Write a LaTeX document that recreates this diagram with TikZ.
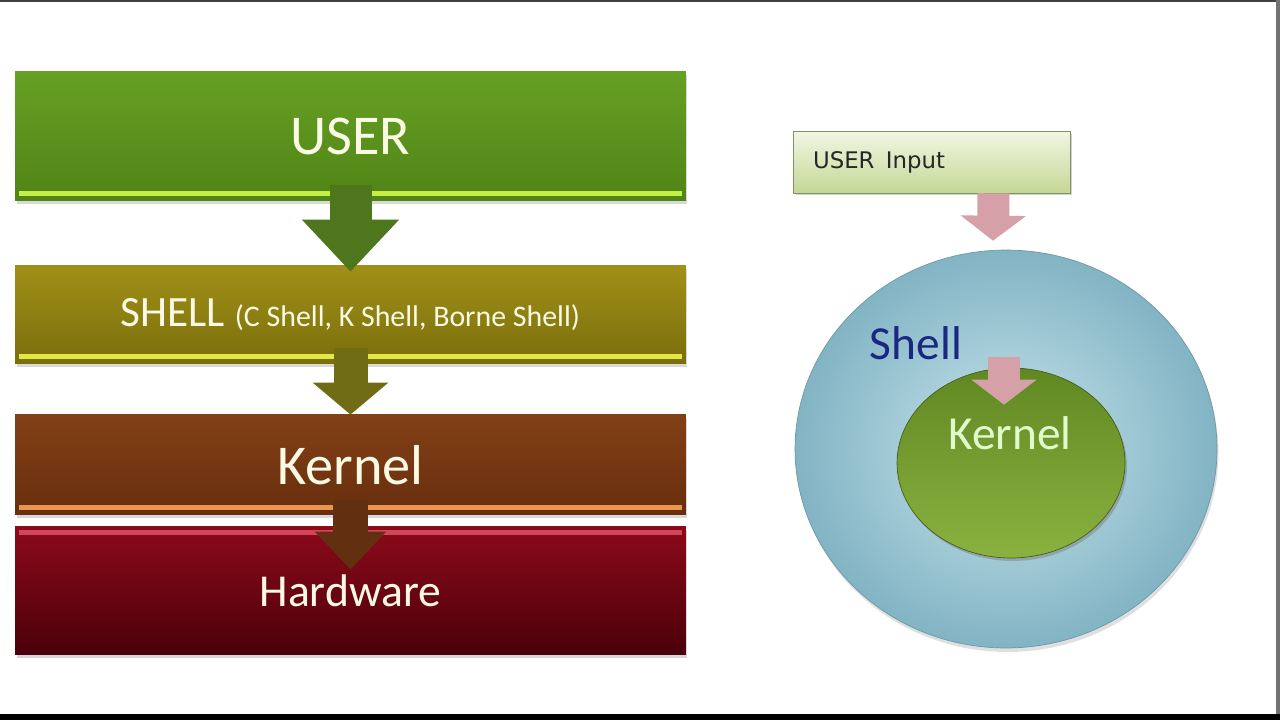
\documentclass[tikz,border=0pt]{standalone}
\usepackage{fontspec}
\setmainfont{Carlito}
\newfontfamily\inputfont{DejaVu Sans}
\usetikzlibrary{shapes.geometric, arrows.meta, shadows}

\definecolor{cream}{RGB}{250,250,228}
\definecolor{usertop}{RGB}{102,160,36}
\definecolor{userbot}{RGB}{80,132,22}
\definecolor{userhl}{RGB}{196,240,70}
\definecolor{usershaft}{RGB}{78,118,28}
\definecolor{shelltop}{RGB}{160,144,24}
\definecolor{shellbot}{RGB}{122,110,12}
\definecolor{shellhl}{RGB}{228,232,70}
\definecolor{shellshaft}{RGB}{112,108,22}
\definecolor{kerntop}{RGB}{130,64,22}
\definecolor{kernbot}{RGB}{104,46,14}
\definecolor{kernhl}{RGB}{232,150,80}
\definecolor{kernshaft}{RGB}{98,48,16}
\definecolor{hardtop}{RGB}{140,10,26}
\definecolor{hardbot}{RGB}{74,0,10}
\definecolor{hardhl}{RGB}{210,70,90}
\definecolor{inputtop}{RGB}{242,246,228}
\definecolor{inputbot}{RGB}{196,216,150}
\definecolor{inputedge}{RGB}{130,146,100}
\definecolor{pinkarr}{RGB}{214,160,168}
\definecolor{ringin}{RGB}{200,228,236}
\definecolor{ringout}{RGB}{130,180,196}
\definecolor{shellblue}{RGB}{26,40,130}
\definecolor{kerngreen}{RGB}{96,136,34}
\definecolor{kerngreenlt}{RGB}{138,178,64}

\tikzstyle{layer} = [rectangle, minimum width=13.42cm, text centered, text=cream, drop shadow={opacity=0.3, shadow xshift=0.03cm, shadow yshift=-0.07cm}]
\tikzstyle{userbox} = [layer, minimum height=2.6cm, top color=usertop, bottom color=userbot, font=\fontsize{32}{38}\selectfont]
\tikzstyle{shellbox} = [layer, minimum height=1.96cm, top color=shelltop, bottom color=shellbot]
\tikzstyle{kernelbox} = [layer, minimum height=2cm, top color=kerntop, bottom color=kernbot, font=\fontsize{32}{38}\selectfont]
\tikzstyle{hardbox} = [layer, minimum height=2.56cm, top color=hardtop, bottom color=hardbot, font=\fontsize{26}{30}\selectfont]
\tikzstyle{hilite} = [line width=3pt]
\tikzstyle{inputbox} = [rectangle, minimum width=5.54cm, minimum height=1.24cm, text width=4.74cm, align=left, inner xsep=0.4cm, top color=inputtop, bottom color=inputbot, draw=inputedge, font=\inputfont\fontsize{13}{15}\selectfont, text=black!85, drop shadow={opacity=0.35, shadow xshift=0.05cm, shadow yshift=-0.05cm}]
\tikzstyle{ring} = [ellipse, minimum width=8.44cm, minimum height=7.96cm, inner color=ringin, outer color=ringout, draw=ringout!85!black, drop shadow={opacity=0.25, shadow xshift=0.03cm, shadow yshift=-0.08cm}]
\tikzstyle{core} = [ellipse, minimum width=4.56cm, minimum height=3.8cm, top color=kerngreen, bottom color=kerngreenlt, draw=kerngreen!70!black, drop shadow={opacity=0.5, shadow xshift=0.04cm, shadow yshift=-0.06cm}]
\tikzstyle{pinkarrow} = [pinkarr, line width=0.64cm, -{Triangle[width=1.28cm, length=0.5cm]}]

\begin{document}
\begin{tikzpicture}[x=0.02cm, y=-0.02cm]
\fill[white] (0,0) rectangle (1280,720);
\useasboundingbox (0,0) rectangle (1280,720);

% layers
\node (user) [userbox] at (350.5,136) {USER};
\node (shell) [shellbox, below of=user, yshift=-2.58cm] {\fontsize{24.6}{30}\selectfont SHELL \fontsize{17}{20}\selectfont(C Shell, K Shell, Borne Shell)};
\node (kernel) [kernelbox, below of=shell, yshift=-2cm] {Kernel};
\node (hardware) [hardbox, below of=kernel, yshift=-1.52cm] {Hardware};

\draw [hilite, userhl] ([xshift=0.08cm,yshift=0.16cm]user.south west) -- ([xshift=-0.08cm,yshift=0.16cm]user.south east);
\draw [hilite, shellhl] ([xshift=0.08cm,yshift=0.16cm]shell.south west) -- ([xshift=-0.08cm,yshift=0.16cm]shell.south east);
\draw [hilite, kernhl] ([xshift=0.08cm,yshift=0.16cm]kernel.south west) -- ([xshift=-0.08cm,yshift=0.16cm]kernel.south east);
\draw [hilite, hardhl] ([xshift=0.08cm,yshift=-0.12cm]hardware.north west) -- ([xshift=-0.08cm,yshift=-0.12cm]hardware.north east);

\draw [usershaft, line width=0.84cm, -{Triangle[width=1.88cm, length=1.04cm]}, shorten <=-0.32cm, shorten >=-0.12cm] (user) -- (shell);
\draw [shellshaft, line width=0.68cm, -{Triangle[width=1.48cm, length=0.64cm]}, shorten <=-0.32cm] (shell) -- (kernel);
\draw [kernshaft, line width=0.7cm, -{Triangle[width=1.38cm, length=0.76cm]}, shorten <=-0.3cm, shorten >=-0.86cm] (kernel) -- (hardware);

% circle view
\node (userin) [inputbox] at (931.5,162) {USER\, Input};
\node (shellc) [ring] at (1006,449) {};
\node (kernc) [core] at (1011,463) {};
\node (shelllbl) [text=shellblue, font=\fontsize{27}{32}\selectfont] at (916,343) {Shell};
\node (kernlbl) [text=cream!90!green, font=\fontsize{27}{32}\selectfont] at (1010,433) {Kernel};

\draw [pinkarrow] ([xshift=1.24cm]userin.south) -- ([xshift=-0.26cm,yshift=0.18cm]shellc.north);
\draw [pinkarrow] ([xshift=-0.14cm,yshift=0.22cm]kernc.north) -- ([xshift=-0.14cm,yshift=-0.74cm]kernc.north);

% frame
\fill[black!75] (0,0) rectangle (1280,2);
\fill[black!55] (1276,0) rectangle (1280,720);
\fill[black] (0,714) rectangle (1280,720);
\end{tikzpicture}
\end{document}
